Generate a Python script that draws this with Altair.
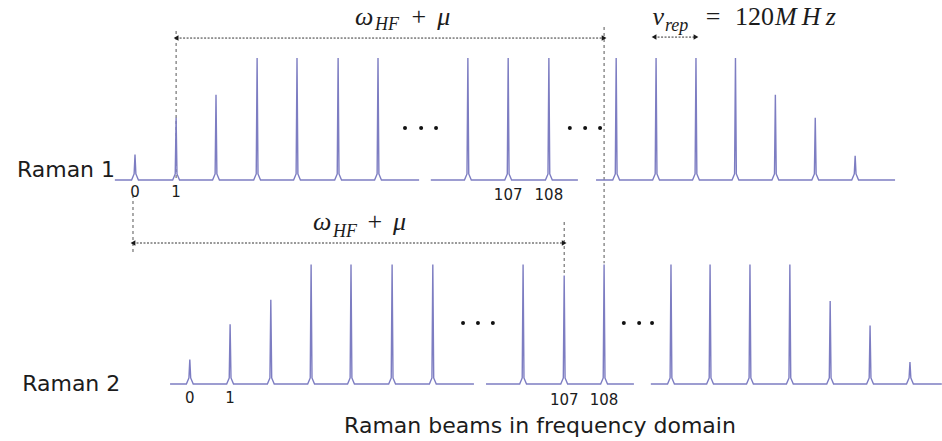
import altair as alt
import pandas as pd

# ---------------- data (schematic units: 1 x-unit = one comb spacing, 1 y-unit = full peak height)
rows = ["Raman 1", "Raman 2"]
row_base = [1.672, 0.0]

# segments of the broken frequency axis: (row index, start, end)
seg_row = [0, 0, 0, 1, 1, 1]
seg_start = [-0.50, 7.34, 11.44, 0.87, 8.71, 12.80]
seg_end = [7.05, 10.99, 18.86, 8.41, 12.38, 20.02]
seg_peaks = [
    [0.0, 1.02, 2.01, 3.03, 4.02, 5.04, 6.03],
    [8.26, 9.26, 10.27],
    [11.94, 12.93, 13.92, 14.90, 15.89, 16.88, 17.87],
    [1.36, 2.36, 3.37, 4.37, 5.36, 6.38, 7.39],
    [9.63, 10.65, 11.64],
    [13.30, 14.27, 15.26, 16.25, 17.25, 18.24, 19.23],
]
seg_heights = [
    [0.21, 0.51, 0.70, 1.0, 1.0, 1.0, 1.0],
    [1.0, 1.0, 1.0],
    [1.0, 1.0, 1.0, 1.0, 0.70, 0.51, 0.20],
    [0.20, 0.49, 0.69, 0.98, 0.98, 0.98, 0.98],
    [0.98, 0.89, 0.98],
    [0.98, 0.98, 0.98, 0.98, 0.68, 0.48, 0.18],
]
foot_w = 0.085      # outer foot of a peak (comb units)
neck_w = 0.022      # width where the narrow spike starts
neck_h = 0.05       # height of the flared foot

# ellipsis dots
dot_x = [6.70, 7.10, 7.47, 10.79, 11.17, 11.54, 8.14, 8.51, 8.88, 12.13, 12.51, 12.83]
dot_y = [2.098] * 6 + [0.50] * 6

# dashed vertical guides
vline_x = [1.02, 11.64, -0.05, 10.65]
vline_top = [2.893, 2.926, 1.549, 1.328]
vline_bot = [1.672, 0.99, 1.082, 0.893]

# double arrows (dotted)
arrow_x1 = [1.02, -0.05, 12.88]
arrow_x2 = [11.64, 10.65, 13.92]
arrow_y = [2.836, 1.156, 2.844]

# tick labels under peaks
tick_text = ["0", "1", "107", "108", "0", "1", "107", "108"]
tick_x = [0.0, 1.02, 9.26, 10.27, 1.36, 2.36, 10.65, 11.64]
tick_y = [1.533, 1.533, 1.508, 1.508, -0.156, -0.156, -0.172, -0.172]

# row labels / caption
label_text = ["Raman 1", "Raman 2"]
label_x = [-2.93, -2.80]
label_y = [1.697, -0.057]
caption_text = ["Raman beams in frequency domain"]
caption_x = [10.05]
caption_y = [-0.402]

# math labels (main italic, subscripts, upright parts)
math_text = ["ω", "μ", "ω", "μ", "ν", "M\u2009H\u2009z"]
math_x = [5.46, 7.50, 4.417, 6.40, 12.84, 15.88]
math_y = [2.943, 2.943, 1.262, 1.262, 2.943, 2.943]
sub_text = ["HF", "HF", "rep"]
sub_x = [5.955, 4.913, 13.15]
sub_y = [2.902, 1.205, 2.895]
up_text = ["+", "+", "=", "120"]
up_x = [6.86, 5.77, 14.16, 14.89]
up_y = [2.943, 1.262, 2.943, 2.943]

# ---------------- build tables
line_rows = []
for s, (r, a, b, pk, hs) in enumerate(zip(seg_row, seg_start, seg_end, seg_peaks, seg_heights)):
    base = row_base[r]
    pts = [(a, base)]
    for p, h in zip(pk, hs):
        pts += [
            (p - foot_w, base),
            (p - neck_w, base + neck_h),
            (p, base + h),
            (p + neck_w, base + neck_h),
            (p + foot_w, base),
        ]
    pts.append((b, base))
    for i, (x, y) in enumerate(pts):
        line_rows.append({"seg": s, "order": i, "x": x, "y": y})
lines_df = pd.DataFrame(line_rows)

dots_df = pd.DataFrame({"x": dot_x, "y": dot_y})
vl_df = pd.DataFrame({"x": vline_x, "y": vline_top, "y2": vline_bot})
ar_df = pd.DataFrame({"x": arrow_x1, "x2": arrow_x2, "y": arrow_y})
head_df = pd.DataFrame({
    "x": arrow_x1 + arrow_x2,
    "y": arrow_y + arrow_y,
    "shape": ["triangle-left"] * 3 + ["triangle-right"] * 3,
})
tick_df = pd.DataFrame({"t": tick_text, "x": tick_x, "y": tick_y})
label_df = pd.DataFrame({"t": label_text, "x": label_x, "y": label_y})
cap_df = pd.DataFrame({"t": caption_text, "x": caption_x, "y": caption_y})
math_df = pd.DataFrame({"t": math_text, "x": math_x, "y": math_y})
sub_df = pd.DataFrame({"t": sub_text, "x": sub_x, "y": sub_y})
up_df = pd.DataFrame({"t": up_text, "x": up_x, "y": up_y})

# ---------------- scales
xs = alt.Scale(domain=[-3.35, 20.025], nice=False, zero=False)
ys = alt.Scale(domain=[-0.467, 3.148], nice=False, zero=False)
X = lambda f="x": alt.X(f"{f}:Q", scale=xs, axis=None)
Y = lambda f="y": alt.Y(f"{f}:Q", scale=ys, axis=None)

PEAK = "#7d7dc2"
INK = "#1c1c1c"

peaks = alt.Chart(lines_df).mark_line(color=PEAK, strokeWidth=1.4, interpolate="linear").encode(
    x=X(), y=Y(), detail="seg:N", order="order:Q"
)
dots = alt.Chart(dots_df).mark_circle(color="#111111", size=16, opacity=1).encode(x=X(), y=Y())
vlines = alt.Chart(vl_df).mark_rule(color="#666666", strokeWidth=1.1, strokeDash=[3, 3]).encode(
    x=X(), y=Y(), y2="y2:Q"
)
arrows = alt.Chart(ar_df).mark_rule(color="#333333", strokeWidth=1, strokeDash=[2, 1.5]).encode(
    x=X(), x2="x2:Q", y=Y()
)
heads = alt.Chart(head_df).mark_point(filled=True, color="#1a1a1a", size=30, opacity=1).encode(
    x=X(), y=Y(), shape=alt.Shape("shape:N", scale=None)
)
ticks = alt.Chart(tick_df).mark_text(
    font="DejaVu Sans", fontSize=15, color=INK, align="center", baseline="alphabetic"
).encode(x=X(), y=Y(), text="t:N")
labels = alt.Chart(label_df).mark_text(
    font="DejaVu Sans", fontSize=22, color=INK, align="left", baseline="alphabetic"
).encode(x=X(), y=Y(), text="t:N")
caption = alt.Chart(cap_df).mark_text(
    font="DejaVu Sans", fontSize=22, color=INK, align="center", baseline="alphabetic"
).encode(x=X(), y=Y(), text="t:N")
math = alt.Chart(math_df).mark_text(
    font="Liberation Serif", fontSize=26, fontStyle="italic", color=INK, align="left", baseline="alphabetic"
).encode(x=X(), y=Y(), text="t:N")
sub = alt.Chart(sub_df).mark_text(
    font="Liberation Serif", fontSize=18, fontStyle="italic", color=INK, align="left", baseline="alphabetic"
).encode(x=X(), y=Y(), text="t:N")
up = alt.Chart(up_df).mark_text(
    font="Liberation Serif", fontSize=26, color=INK, align="left", baseline="alphabetic"
).encode(x=X(), y=Y(), text="t:N")

chart = alt.layer(
    vlines, arrows, heads, peaks, dots, ticks, labels, caption, math, sub, up
).properties(
    width=942, height=441, padding=0, autosize=alt.AutoSizeParams(type="none"), background="white"
).configure_view(stroke=None)

chart.save("out.html", embed_options={"renderer": "svg", "actions": False})
